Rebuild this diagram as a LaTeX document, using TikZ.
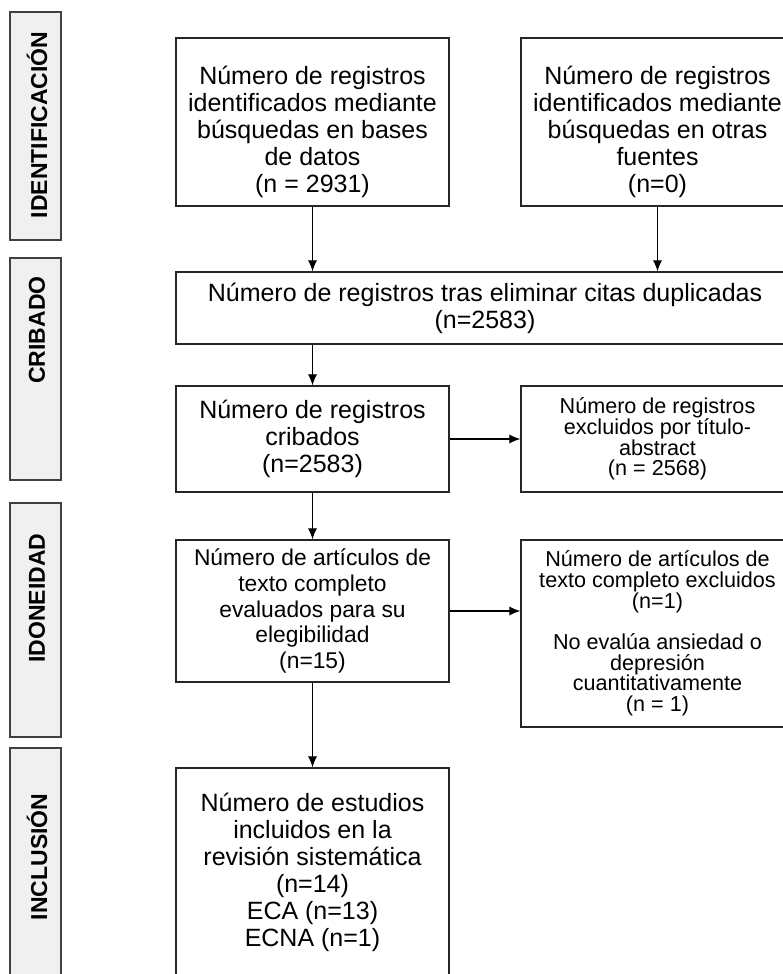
\documentclass[tikz,border=0pt]{standalone}
\usepackage{fontspec}
\setmainfont{Liberation Sans}
\usetikzlibrary{arrows.meta}

\begin{document}
\begin{tikzpicture}[x=0.5pt,y=-0.5pt,
                    box/.style={draw=black!85,line width=0.7pt,align=center,inner sep=0pt,
                                minimum width=136.5pt},
                    big/.style={font=\fontsize{12.5}{13.5}\selectfont},
                    mid/.style={font=\fontsize{11.4}{12.9}\selectfont},
                    small/.style={font=\fontsize{10.8}{10.4}\selectfont},
                    phase/.style={draw=black!75,fill=black!6,line width=0.7pt},
                    phasetext/.style={rotate=90,font=\fontsize{11.5}{12}\selectfont\bfseries},
                    flow/.style={-{Latex[length=5.5pt,width=4.6pt]},line width=0.55pt},
                    ]

                    \useasboundingbox (0,0) rectangle (782,974);

                    \draw[phase] (10,12) rectangle (61,240);
                    \draw[phase] (10,258) rectangle (61,480);
                    \draw[phase] (10,503) rectangle (61,737);
                    \draw[phase] (10,748) rectangle (61,990);

                    \node[phasetext] (ident) at (37,125) {IDENTIFICACIÓN};
                    \node[phasetext] (cribado) at (37,330) {CRIBADO};
                    \node[phasetext] (idon) at (37,598) {IDONEIDAD};
                    \node[phasetext] (inclu) at (37,857) {INCLUSIÓN};

                    \node[box,minimum height=84pt] (bases) at (312.5,122) {};
                    \node[big,align=center] (basestxt) at (312.5,132) {Número de registros\\ identificados mediante\\ búsquedas en bases\\ de datos\\ (n = 2931)};
                    \node[box,minimum height=84pt] (otras) at (657.5,122) {};
                    \node[big,align=center] (otrastxt) at (657.5,132) {Número de registros\\ identificados mediante\\ búsquedas en otras\\ fuentes\\ (n=0)};

                    \node[box,big,minimum width=309pt,minimum height=36pt] (dup) at (485,308) {Número de registros tras eliminar citas duplicadas\\ (n=2583)};

                    \node[box,big,minimum height=53pt] (crib) at (312.5,439) {Número de registros\\ cribados\\ (n=2583)};
                    \node[box,small,minimum height=53pt] (excl) at (657.5,439) {Número de registros\\ excluidos por título-\\ abstract\\ (n = 2568)};

                    \node[box,mid,minimum height=71pt] (eleg) at (312.5,611) {Número de artículos de\\ texto completo\\ evaluados para su\\ elegibilidad\\ (n=15)};
                    \node[box,small,minimum height=93.5pt] (exft) at (657.5,633.5) {Número de artículos de\\ texto completo excluidos\\ (n=1)\\[10pt] No evalúa ansiedad o\\ depresión\\ cuantitativamente\\ (n = 1)};

                    \node[box,big,minimum height=104pt] (incl) at (312.5,872) {Número de estudios\\ incluidos en la\\ revisión sistemática\\ (n=14)\\ ECA (n=13)\\ ECNA (n=1)};

                    \draw[flow] (bases.south) -- (bases.south |- dup.north);
                    \draw[flow] (otras.south) -- (otras.south |- dup.north);
                    \draw[flow] (dup.south -| crib.north) -- (crib.north);
                    \draw[flow] (crib.east) -- (excl.west);
                    \draw[flow] (crib.south) -- (eleg.north);
                    \draw[flow] (eleg.east) -- (eleg.east -| exft.west);
                    \draw[flow] (eleg.south) -- (incl.north);

                \end{tikzpicture}
\end{document}
